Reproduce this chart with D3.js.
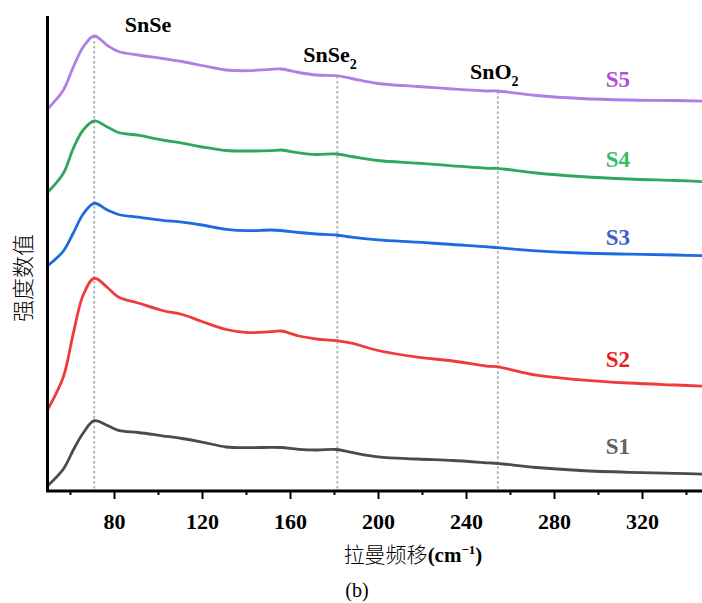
<!DOCTYPE html>
<html>
<head>
<meta charset="utf-8">
<script src="https://cdn.jsdelivr.net/npm/d3@7/dist/d3.min.js"></script>
<style>
body { margin: 0; background: #fff; }
.serif { font-family: "Liberation Serif", "Times New Roman", serif; }
</style>
</head>
<body>
<div id="chart"></div>
<script>
// raman shift (cm-1) and intensity (a.u., offset stacked)
var shift = [50, 57, 61.5, 66, 71, 77, 82, 91, 102, 111, 120, 131, 141, 151, 156, 164, 172, 181, 188, 200, 218, 234, 250, 254, 272, 292, 314, 335, 350];
var s1 = [5.5, 22, 41, 58, 70.3, 65.5, 60.7, 58.5, 55.2, 52.5, 49, 44, 43.3, 43.7, 43.5, 41.7, 41, 41.5, 38.6, 34.2, 32, 30.5, 28.2, 27.7, 23.5, 20.5, 18.7, 17.7, 16.8];
var s2 = [82, 114.3, 157.7, 196, 212.7, 203.5, 194, 188, 180.5, 176.5, 169.5, 161.5, 158.4, 159.3, 160, 155, 152, 150.3, 147.8, 140.5, 133.8, 130, 124.7, 124.3, 115.8, 111.2, 108, 106, 104.7];
var s3 = [225.5, 240, 258, 277, 287.7, 281, 276.5, 273.8, 270.7, 268.8, 266, 261.7, 260.3, 261, 260.5, 258.5, 257, 256, 253.8, 251.2, 248.8, 246.5, 244.2, 243.3, 240.2, 238, 236.8, 236, 235.2];
var s4 = [299, 317.7, 342.7, 361, 370, 364, 358.5, 355.8, 351, 347.8, 344, 340.5, 340, 340.3, 341, 338.2, 336.5, 337, 334.5, 330.5, 327.8, 325.2, 322.7, 322.7, 318, 314.5, 312, 310.5, 309.2];
var s5 = [382.5, 401, 424, 444, 455, 445.5, 439.5, 436, 432.5, 429.5, 425.5, 421, 420.3, 421.7, 422, 418.5, 416, 415.3, 412.5, 407.5, 404.5, 402, 400, 400, 395.5, 392.5, 391, 390.5, 389.8];
var seriesNames = ["S1", "S2", "S3", "S4", "S5"];
var seriesValues = [s1, s2, s3, s4, s5];

// reference peaks
var peakNames = ["SnSe", "SnSe", "SnO"];
var peakSubs = ["", "2", "2"];
var peakShift = [71, 181.5, 254.5];

var majorTicks = [80, 120, 160, 200, 240, 280, 320];
var minorTicks = [60, 100, 140, 180, 220, 260, 300, 340];

const W = 702, H = 603;
var lineColors = ["#4b4b4b", "#f03b3b", "#1d6be0", "#2fa75c", "#b17ee4"];
var labelColors = ["#636363", "#ee1c1c", "#3e5fc9", "#38bd68", "#b24ed8"];

var svg = d3.select("#chart").append("svg")
    .attr("width", W)
    .attr("height", H);

var xScale = d3.scaleLinear().domain([50, 350]).range([48, 708]);
var yScale = d3.scaleLinear().domain([0, 475]).range([491, 16]);

// dashed guide lines, from the top curve down to the axis
function topAt(x) {
    var i = d3.bisectLeft(shift, x);
    if (i <= 0) return s5[0];
    var t = (x - shift[i - 1]) / (shift[i] - shift[i - 1]);
    return s5[i - 1] + t * (s5[i] - s5[i - 1]);
}
svg.selectAll("line.guide")
    .data(peakShift)
    .enter()
    .append("line")
    .attr("class", "guide")
    .attr("x1", d => xScale(d))
    .attr("x2", d => xScale(d))
    .attr("y1", d => yScale(topAt(d)))
    .attr("y2", yScale(0))
    .style("stroke", "#b4b4b4")
    .style("stroke-width", 2)
    .style("stroke-dasharray", "2.5,2.5");

// spectra
var line = d3.line()
    .x(d => xScale(d[0]))
    .y(d => yScale(d[1]))
    .curve(d3.curveCatmullRom.alpha(0.5));

svg.selectAll("path.spec")
    .data(seriesValues)
    .enter()
    .append("path")
    .attr("class", "spec")
    .attr("d", vals => line(shift.map((x, i) => [x, vals[i]])))
    .style("fill", "none")
    .style("stroke", (d, i) => lineColors[i])
    .style("stroke-width", 2.8)
    .style("stroke-linejoin", "round");

// series labels
var labelLevel = [37, 124, 246, 324, 404];
svg.selectAll("text.slabel")
    .data(seriesNames)
    .enter()
    .append("text")
    .attr("class", "slabel serif")
    .attr("x", xScale(309))
    .attr("y", (d, i) => yScale(labelLevel[i]))
    .attr("text-anchor", "middle")
    .style("font-size", "23px")
    .style("font-weight", "bold")
    .style("fill", (d, i) => labelColors[i])
    .text(d => d);

// peak labels
var peakLabelX = [95.5, 166, 241.8];
var peakLabelY = [32, 62, 79];
peakNames.forEach(function(n, i) {
    var t = svg.append("text")
        .attr("class", "serif")
        .attr("x", xScale(peakLabelX[i]))
        .attr("y", peakLabelY[i])
        .attr("text-anchor", i == 0 ? "middle" : "start")
        .style("font-size", "22px")
        .style("font-weight", "bold")
        .style("fill", "#000");
    t.append("tspan").text(n);
    if (peakSubs[i]) {
        t.append("tspan")
            .attr("dy", 7)
            .style("font-size", "14px")
            .text(peakSubs[i]);
    }
});

// axes
var xAxis = d3.axisBottom(xScale).tickValues(majorTicks).tickSize(8).tickFormat(d3.format("d"));
var xMinor = d3.axisBottom(xScale).tickValues(minorTicks).tickSize(4).tickFormat("");

var gx = svg.append("g")
    .attr("transform", "translate(0," + yScale(0) + ")")
    .call(xAxis);
svg.append("g")
    .attr("transform", "translate(0," + yScale(0) + ")")
    .call(xMinor)
    .call(g => g.select(".domain").remove());
gx.select(".domain").remove();
svg.selectAll(".tick line").style("stroke", "#000").style("stroke-width", 2);
gx.selectAll(".tick text")
    .attr("class", "serif")
    .attr("y", 38)
    .attr("dy", null)
    .style("font-size", "22px")
    .style("font-weight", "bold")
    .style("fill", "#000");

svg.append("path")
    .attr("d", "M47.5,16V" + (yScale(0)) + "H" + W)
    .style("fill", "none")
    .style("stroke", "#000")
    .style("stroke-width", 3);

// axis titles
var xt = svg.append("text")
    .attr("x", 413)
    .attr("y", 562)
    .attr("text-anchor", "middle")
    .style("font-size", "21px")
    .style("fill", "#000");
xt.append("tspan")
    .style("font-family", "'Noto Sans CJK SC'")
    .style("font-weight", 300)
    .text("拉曼频移");
xt.append("tspan")
    .attr("class", "serif")
    .style("font-weight", "bold")
    .text("(cm");
xt.append("tspan")
    .attr("class", "serif")
    .attr("dy", -8)
    .style("font-size", "13px")
    .style("font-weight", "bold")
    .text("−1");
xt.append("tspan")
    .attr("class", "serif")
    .attr("dy", 8)
    .style("font-weight", "bold")
    .text(")");

svg.append("text")
    .attr("transform", "translate(31,278) rotate(-90)")
    .attr("text-anchor", "middle")
    .style("font-family", "'Noto Sans CJK SC'")
    .style("font-weight", 300)
    .style("font-size", "22px")
    .style("fill", "#000")
    .text("强度数值");

svg.append("text")
    .attr("class", "serif")
    .attr("x", 357)
    .attr("y", 597)
    .attr("text-anchor", "middle")
    .style("font-size", "20px")
    .style("fill", "#000")
    .text("(b)");
</script>
</body>
</html>
